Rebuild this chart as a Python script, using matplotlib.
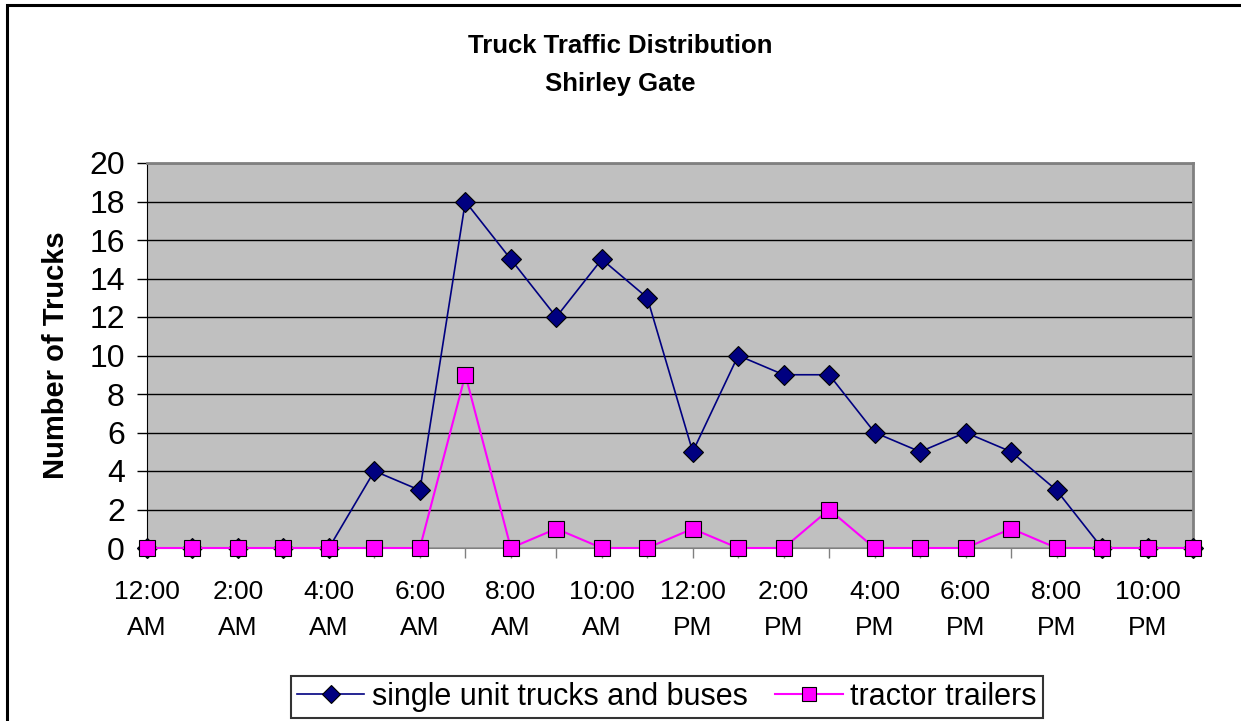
import matplotlib
matplotlib.use("Agg")
import matplotlib.pyplot as plt
from matplotlib.patches import Rectangle

plt.rcParams['font.family'] = ['Liberation Sans', 'DejaVu Sans']

hours = list(range(24))
hour_labels = ["12:00\nAM", "", "2:00\nAM", "", "4:00\nAM", "", "6:00\nAM", "",
               "8:00\nAM", "", "10:00\nAM", "", "12:00\nPM", "", "2:00\nPM", "",
               "4:00\nPM", "", "6:00\nPM", "", "8:00\nPM", "", "10:00\nPM", ""]
single_unit = [0, 0, 0, 0, 0, 4, 3, 18, 15, 12, 15, 13, 5, 10, 9, 9, 6, 5, 6, 5, 3, 0, 0, 0]
tractor = [0, 0, 0, 0, 0, 0, 0, 9, 0, 1, 0, 0, 1, 0, 0, 2, 0, 0, 0, 1, 0, 0, 0, 0]

fig = plt.figure(figsize=(12.41, 7.21), dpi=100)
ax = fig.add_axes([147/1241, 1 - 548/721, (1193 - 147)/1241, (548 - 163)/721])

# outer chart border (runs off the right/bottom of the picture)
fig.patches.append(Rectangle((7/1241, -0.05), 1.1, 1 - 5/721 + 0.05, transform=fig.transFigure,
                             fill=False, edgecolor='black', linewidth=2.2, zorder=0))

ax.set_facecolor('#C0C0C0')
ax.plot(hours, single_unit, color='#000080', linewidth=1.2, marker='D', markersize=10,
        markerfacecolor='#000080', markeredgecolor='black', markeredgewidth=0.8,
        label='single unit trucks and buses', clip_on=False, zorder=3)
ax.plot(hours, tractor, color='#FF00FF', linewidth=1.5, marker='s', markersize=11,
        markerfacecolor='#FF00FF', markeredgecolor='black', markeredgewidth=0.8,
        label='tractor trailers', clip_on=False, zorder=4)

ax.set_xlim(0, 23)
ax.set_ylim(0, 20)
ax.set_yticks(range(0, 21, 2))
ax.set_xticks(hours)
ax.set_xticklabels(hour_labels, linespacing=1.65)
ax.yaxis.grid(True, color='black', linewidth=1)
ax.set_axisbelow(True)

ax.tick_params(axis='y', labelsize=23, length=7, width=1, pad=9, color='black')
ax.tick_params(axis='x', labelsize=19, length=7, width=1, pad=16, color='#808080')

for side in ['top', 'right']:
    ax.spines[side].set_color('#808080')
    ax.spines[side].set_linewidth(2)
ax.spines['left'].set_color('black')
ax.spines['bottom'].set_color('#808080')

ax.set_ylabel('Number of Trucks', fontsize=21, fontweight='bold', labelpad=14)

fig.text(0.5, 1 - 46/721, 'Truck Traffic Distribution', ha='center', va='center',
         fontsize=18.5, fontweight='bold')
fig.text(0.5, 1 - 84/721, 'Shirley Gate', ha='center', va='center',
         fontsize=18.5, fontweight='bold')

leg = fig.legend(loc='center', bbox_to_anchor=(667/1241, 1 - 697/721), ncol=2, fontsize=22,
                 frameon=True, fancybox=False, edgecolor='black', handlelength=2.2,
                 handletextpad=0.25, columnspacing=0.9, borderpad=0.2, borderaxespad=0,
                 markerscale=0.9)
leg.get_frame().set_linewidth(1.5)

fig.savefig('out.png', dpi=100)
